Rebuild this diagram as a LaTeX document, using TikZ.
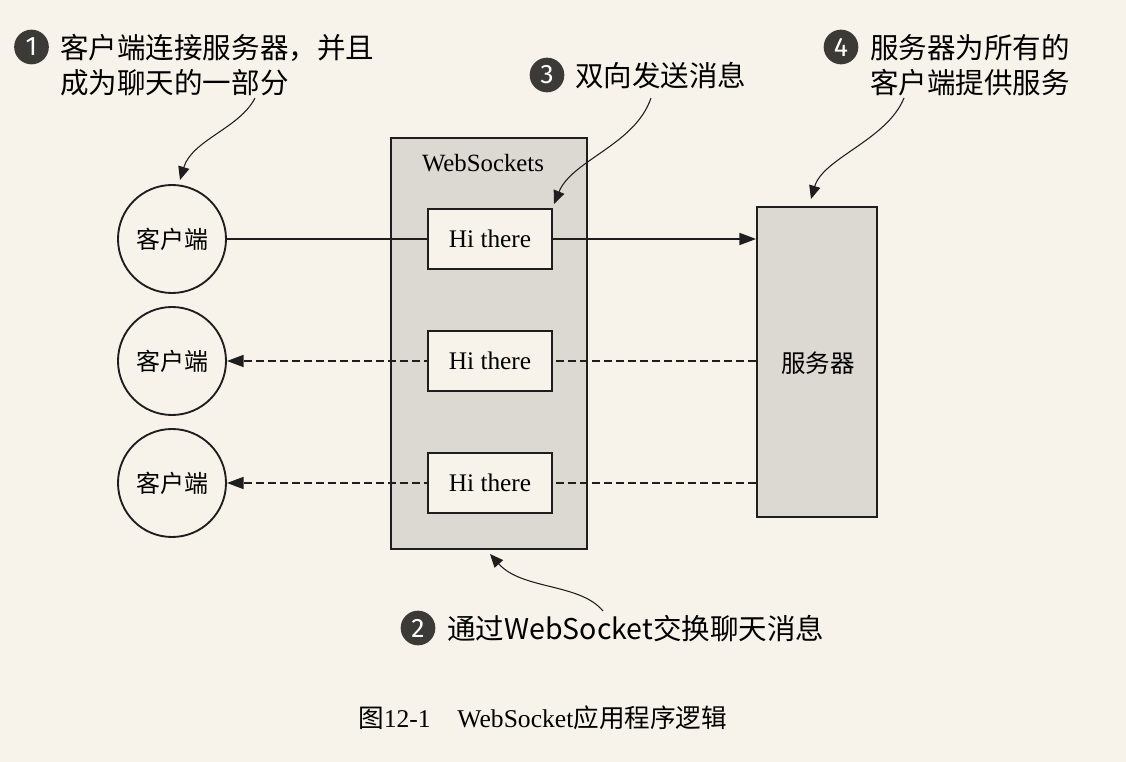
\documentclass[tikz,border=0pt]{standalone}
\usepackage{fontspec}
\setmainfont{Liberation Serif}
\newfontfamily\cjk{Noto Sans CJK SC}
\newfontfamily\badgefont{Fira Sans}
\usetikzlibrary{arrows.meta}
\definecolor{bgcol}{HTML}{F7F3EA}
\definecolor{boxgray}{HTML}{DCD8D2}
\definecolor{badgegray}{HTML}{3C3A37}
\definecolor{ink}{HTML}{1E1E1E}
\tikzset{
  client/.style={circle, draw=ink, line width=1.4pt, fill=bgcol, minimum size=81pt, inner sep=0pt, font=\cjk\fontsize{18pt}{20pt}\selectfont},
  wsbox/.style={rectangle, draw=ink, line width=1.4pt, fill=boxgray, minimum width=147pt, minimum height=308.25pt, inner sep=0pt},
  srvbox/.style={rectangle, draw=ink, line width=1.4pt, fill=boxgray, minimum width=90pt, minimum height=232.5pt, inner sep=0pt},
  msgbox/.style={rectangle, draw=ink, line width=1.4pt, fill=bgcol, minimum width=93pt, minimum height=45pt, inner sep=0pt, font=\fontsize{19pt}{21pt}\selectfont},
  plainlbl/.style={inner sep=0pt, font=\fontsize{18.6pt}{21pt}\selectfont},
  srvlbl/.style={inner sep=0pt, font=\cjk\fontsize{18.4pt}{21pt}\selectfont},
  badge/.style={circle, fill=badgegray, text=white, minimum size=26pt, inner sep=0pt, font=\badgefont\fontsize{20pt}{22pt}\selectfont},
  note/.style={inner sep=0pt, align=left, anchor=west, font=\cjk\fontsize{21.4pt}{26.25pt}\selectfont},
  conn/.style={draw=ink, line width=1.3pt, -{Triangle[length=12.5pt,width=9pt]}},
  dconn/.style={conn, dash pattern=on 6pt off 3pt},
  callout/.style={draw=ink, line width=0.8pt, -{Triangle[length=10pt,width=8.5pt]}},
  caption/.style={inner sep=0pt, anchor=west, font=\fontsize{19.2pt}{21pt}\selectfont}
}
\begin{document}
\begin{tikzpicture}[x=0.75pt,y=-0.75pt]
\fill[bgcol] (0,0) rectangle (1126,762);
\useasboundingbox (0,0) rectangle (1126,762);

% main blocks
\node[wsbox] (ws) at (489,343.5) {};
\node[plainlbl] (wslbl) at (483,163) {WebSockets};
\node[srvbox] (srv) at (817,362) {};
\node[srvlbl] (srvlbl) at (818,363) {服务器};

\node[client] (c1) at (172,239) {客户端};
\node[client] (c2) at (172,361) {客户端};
\node[client] (c3) at (172,483) {客户端};

% connectors (drawn under the message boxes)
\draw[conn] (c1.east) -- (srv.west |- c1.east);
\draw[dconn] (srv.west |- c2.east) -- (c2.east);
\draw[dconn] (srv.west |- c3.east) -- (c3.east);

\node[msgbox] (m1) at (490,239) {Hi there\hspace{5pt}};
\node[msgbox] (m2) at (490,361) {Hi there\hspace{5pt}};
\node[msgbox] (m3) at (490,483) {Hi there\hspace{5pt}};

% annotations
\node[badge] (b1) at (31.5,47) {1};
\node[note] (n1) at (60,65) {客户端连接服务器，并且\\成为聊天的一部分};
\coordinate (s1) at (255,98);
\coordinate (t1) at (180,180);
\draw[callout] (s1) .. controls (240,128) and (192,140) .. (t1);

\node[badge] (b2) at (418,628) {2};
\node[note] (n2) at (447,629) {通过WebSocket交换聊天消息};
\coordinate (s2) at (603,611);
\coordinate (t2) at (490,554);
\draw[callout] (s2) .. controls (580,583) and (522,590) .. (t2);

\node[badge] (b3) at (547,75) {3};
\node[note] (n3) at (575,76) {双向发送消息};
\coordinate (s3) at (651,98);
\coordinate (t3) at (554,204);
\draw[callout] (s3) .. controls (635,145) and (572,160) .. (t3);

\node[badge] (b4) at (841,47) {4};
\node[note] (n4) at (870,65) {服务器为所有的\\客户端提供服务};
\coordinate (s4) at (904,98);
\coordinate (t4) at (811,199);
\draw[callout] (s4) .. controls (887,140) and (823,158) .. (t4);

% caption
\node[caption] (cap) at (358,718) {{\cjk 图}12-1\hspace{20pt}WebSocket{\cjk 应用程序逻辑}};
\end{tikzpicture}
\end{document}
